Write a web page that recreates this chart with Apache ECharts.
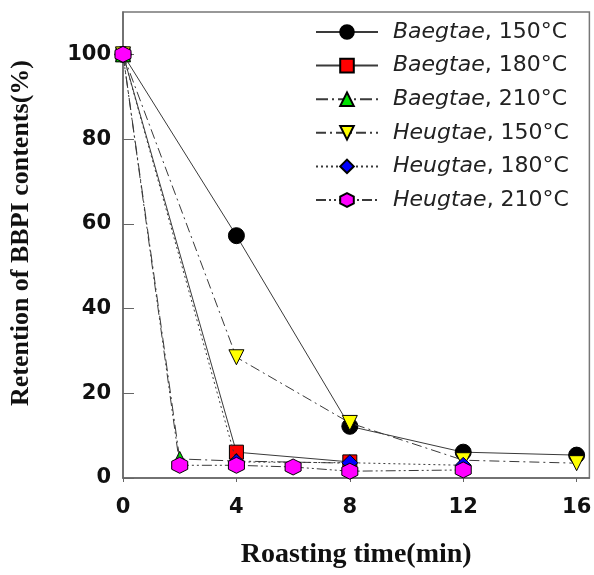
<!DOCTYPE html>
<html>
<head>
<meta charset="utf-8">
<script src="https://cdn.jsdelivr.net/npm/echarts@6/dist/echarts.min.js"></script>
<style>
  html, body { margin: 0; padding: 0; background: #fff; }
  #chart { width: 594px; height: 575px; }
</style>
</head>
<body>
<div id="chart"></div>
<script>
// Roasting time (min) and BBPI retention (%) for each sample / temperature
const baegtae150Time = [0, 4, 8, 12, 16];
const baegtae150Ret  = [100, 57.2, 12.2, 6.1, 5.4];
const baegtae180Time = [0, 4, 8];
const baegtae180Ret  = [100, 6.1, 3.8];
const baegtae210Time = [0, 2, 4, 8];
const baegtae210Ret  = [100, 4.5, 4.0, 3.5];
const heugtae150Time = [0, 4, 8, 12, 16];
const heugtae150Ret  = [100, 28.5, 13.0, 4.2, 3.5];
const heugtae180Time = [0, 4, 8, 12];
const heugtae180Ret  = [100, 3.8, 3.6, 3.0];
const heugtae210Time = [0, 2, 4, 6, 8, 12];
const heugtae210Ret  = [100, 3.0, 3.0, 2.6, 1.6, 1.9];

const seriesNames = ['Baegtae, 150°C', 'Baegtae, 180°C', 'Baegtae, 210°C',
                     'Heugtae, 150°C', 'Heugtae, 180°C', 'Heugtae, 210°C'];
const xTicks = [0, 4, 8, 12, 16];
const yTicks = [0, 20, 40, 60, 80, 100];

const hexagon = 'path://M0,-1 L0.866,-0.5 L0.866,0.5 L0,1 L-0.866,0.5 L-0.866,-0.5 Z';
const downTriangle = 'path://M-1,-0.9 L1,-0.9 L0,0.9 Z';

function pairs(xs, ys) { return xs.map((x, i) => [x, ys[i]]); }

const lineColor = '#3a3a3a';
const styles = [
  { data: pairs(baegtae150Time, baegtae150Ret), color: '#000000', symbol: 'circle', size: 16, dash: 'solid' },
  { data: pairs(baegtae180Time, baegtae180Ret), color: '#ff0000', symbol: 'rect', size: 14, dash: 'solid' },
  { data: pairs(baegtae210Time, baegtae210Ret), color: '#00e000', symbol: 'triangle', size: 15, dash: [12, 4, 2, 4] },
  { data: pairs(heugtae150Time, heugtae150Ret), color: '#ffff00', symbol: downTriangle, size: 15, dash: [10, 4, 2, 4] },
  { data: pairs(heugtae180Time, heugtae180Ret), color: '#0000ff', symbol: 'diamond', size: 16, dash: [2, 3] },
  { data: pairs(heugtae210Time, heugtae210Ret), color: '#ff00ff', symbol: hexagon, size: 16, dash: [10, 3, 2, 3, 2, 3] }
];

const series = styles.map((s, i) => ({
  name: seriesNames[i],
  type: 'line',
  data: s.data,
  symbol: s.symbol,
  symbolSize: s.size,
  clip: false,
  z: 2 + i,
  itemStyle: { color: s.color, borderColor: '#000', borderWidth: 1 },
  lineStyle: { color: lineColor, width: 1, type: s.dash },
  emphasis: { disabled: true },
  animation: false
}));

const chart = echarts.init(document.getElementById('chart'), null, { renderer: 'canvas' });
chart.setOption({
  backgroundColor: '#fff',
  animation: false,
  grid: {
    left: 114, right: 1, top: 12, bottom: 97,
    show: true, borderColor: '#777', borderWidth: 1.5, backgroundColor: '#fff'
  },
  legend: {
    orient: 'vertical',
    left: 315, top: 21,
    padding: 0,
    itemWidth: 62, itemHeight: 17, itemGap: 11.6,
    data: seriesNames,
    formatter: function (name) {
      const parts = name.split(', ');
      return '{i|' + parts[0] + '}, ' + parts[1];
    },
    textStyle: {
      fontFamily: 'DejaVu Sans', fontSize: 22, color: '#222', lineHeight: 22,
      padding: [0, 0, 0, 10],
      rich: { i: { fontFamily: 'DejaVu Sans', fontSize: 22, fontStyle: 'italic', color: '#222' } }
    }
  },
  xAxis: {
    type: 'value',
    min: 0, max: 16.45, interval: 4,
    name: 'Roasting time(min)',
    nameLocation: 'middle',
    nameGap: 63,
    nameTextStyle: { fontFamily: 'Liberation Serif', fontWeight: 'bold', fontSize: 28, color: '#111' },
    axisLine: { show: true, lineStyle: { color: '#666', width: 1.5 } },
    axisTick: { show: true, inside: false, length: 4, lineStyle: { color: '#666' } },
    axisLabel: {
      showMaxLabel: false, margin: 19,
      fontFamily: 'DejaVu Sans', fontWeight: 'bold', fontSize: 21, color: '#111',
      formatter: v => (xTicks.includes(v) ? String(v) : '')
    },
    splitLine: { show: false }
  },
  yAxis: {
    type: 'value',
    min: 0, max: 110, interval: 20,
    name: 'Retention of BBPI contents(%)',
    nameLocation: 'middle',
    nameGap: 89,
    nameTextStyle: {
      fontFamily: 'Liberation Serif', fontWeight: 'bold', fontSize: 26, color: '#111',
      padding: [0, 0, 0, 24]
    },
    axisLine: { show: true, lineStyle: { color: '#666', width: 1.5 } },
    axisTick: { show: true, inside: true, length: 11, lineStyle: { color: '#666' } },
    axisLabel: {
      showMaxLabel: false, margin: 12,
      fontFamily: 'DejaVu Sans', fontWeight: 'bold', fontSize: 21, color: '#111',
      formatter: v => (yTicks.includes(v) ? String(v) : '')
    },
    splitLine: { show: false }
  },
  series: series
});
</script>
</body>
</html>
